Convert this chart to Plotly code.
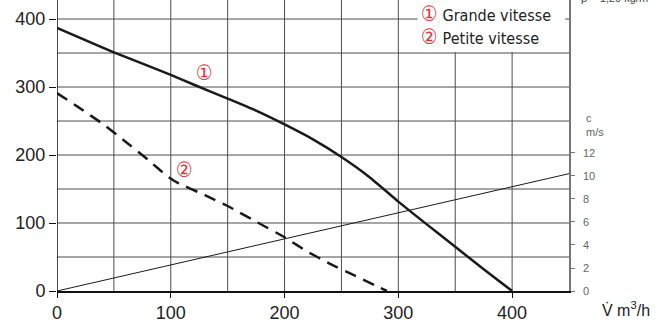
import plotly.graph_objects as go

# Data
v_grande = [0, 50, 100, 121, 150, 174, 200, 225, 250, 275, 300, 325, 350, 375, 400]
p_grande = [387, 351, 318, 303, 283, 266, 245, 223, 197, 167, 131.5, 98, 65, 32, 0]

v_petite = [0, 20, 40, 60, 80, 96, 105, 130, 150, 175, 200, 220, 240, 260, 280, 290]
p_petite = [291, 269, 246, 220, 193, 170, 160, 141, 125, 102, 79, 58, 40, 24, 8, 0]

v_speed = [0, 450]
c_speed = [0, 10.2]

x_ticks = [0, 100, 200, 300, 400]
y_ticks = [0, 100, 200, 300, 400]
c_ticks = [0, 2, 4, 6, 8, 10, 12]

legend_labels = ["① Grande vitesse", "② Petite vitesse"]

RED = "#e2343c"
GRID = "#4d4d4d"
FONT = "DejaVu Sans Condensed, Liberation Sans Narrow, Liberation Sans, sans-serif"
TFONT = "Liberation Sans, Arial, sans-serif"

fig = go.Figure()
fig.add_trace(go.Scatter(x=v_grande, y=p_grande, mode="lines",
                         line=dict(color="#1a1a1a", width=2.5, shape="spline", smoothing=0.5),
                         showlegend=False, hoverinfo="skip"))
fig.add_trace(go.Scatter(x=v_petite, y=p_petite, mode="lines",
                         line=dict(color="#1a1a1a", width=2.5, dash="12px,8px", shape="spline", smoothing=0.4),
                         showlegend=False, hoverinfo="skip"))
fig.add_trace(go.Scatter(x=v_speed, y=c_speed, mode="lines", yaxis="y2",
                         line=dict(color="#1a1a1a", width=1),
                         showlegend=False, hoverinfo="skip"))

fig.update_layout(
    width=659, height=323,
    margin=dict(l=57, r=90, t=0, b=32),
    paper_bgcolor="white", plot_bgcolor="white",
    xaxis=dict(range=[0, 450], tickvals=x_ticks, showgrid=False,
               showline=True, linecolor="#111", linewidth=1.5,
               ticks="outside", ticklen=5, tickcolor="#111",
               tickfont=dict(family=TFONT, size=18, color="#222"),
               zeroline=False),
    yaxis=dict(range=[0, 428], tickvals=y_ticks, showgrid=False,
               showline=False, ticks="outside", ticklen=7, tickcolor="#111",
               tickfont=dict(family=TFONT, size=18, color="#222"),
               zeroline=False),
    yaxis2=dict(range=[0, 25.3], tickvals=c_ticks, overlaying="y", side="right",
                anchor="x", showgrid=False, showline=True, linecolor="#777", linewidth=1.5,
                ticks="outside", ticklen=4, tickcolor="#777", ticklabelstandoff=6,
                tickfont=dict(family=TFONT, size=11, color="#666"),
                zeroline=False),
)

# grid lines (every 50 on both axes)
for xv in range(50, 450, 50):
    fig.add_shape(type="line", x0=xv, x1=xv, y0=0, y1=428, xref="x", yref="y",
                  line=dict(color=GRID, width=1), layer="below")
for yv in range(50, 450, 50):
    fig.add_shape(type="line", x0=0, x1=450, y0=yv, y1=yv, xref="x", yref="y",
                  line=dict(color=GRID, width=1), layer="below")
fig.add_shape(type="line", x0=0, x1=0, y0=0, y1=428, xref="x", yref="y",
              line=dict(color="#111", width=1.5), layer="below")

# legend box
fig.add_shape(type="rect", x0=317, x1=446.5, y0=351.5, y1=440, xref="x", yref="y",
              fillcolor="white", line=dict(width=0), layer="above")
for i, yy in enumerate([407, 373]):
    lab = legend_labels[i]
    fig.add_annotation(x=318, y=yy, xref="x", yref="y", xanchor="left", yanchor="middle",
                       text=f"<span style='color:{RED};font-size:21px'>{lab[0]}</span>{lab[1:]}",
                       showarrow=False, font=dict(family=FONT, size=16, color="#222"))

# curve labels
fig.add_annotation(x=130, y=320, xref="x", yref="y", text="①", showarrow=False,
                   font=dict(family=FONT, size=21, color=RED))
fig.add_annotation(x=112, y=178, xref="x", yref="y", text="②", showarrow=False,
                   font=dict(family=FONT, size=21, color=RED))

# right axis title
fig.add_annotation(x=1.039, y=254, xref="paper", yref="y", text="c", showarrow=False,
                   xanchor="center", yanchor="middle",
                   font=dict(family=TFONT, size=11, color="#666"))
fig.add_annotation(x=1.05, y=234, xref="paper", yref="y", text="m/s", showarrow=False,
                   xanchor="center", yanchor="middle",
                   font=dict(family=TFONT, size=11, color="#666"))

# density note (clipped at top)
fig.add_annotation(x=1.02, y=1, xref="paper", yref="paper", xanchor="left", yanchor="bottom",
                   yshift=-6, text="ρ = 1,20 kg/m³", showarrow=False,
                   font=dict(family=TFONT, size=11, color="#444"))

# x axis title
fig.add_annotation(x=1.06, y=0, xref="paper", yref="paper", xanchor="left", yanchor="top",
                   yshift=-6, text="V̇ m<sup>3</sup>/h", showarrow=False,
                   font=dict(family=TFONT, size=16, color="#222"))

fig.write_html("out.html")
